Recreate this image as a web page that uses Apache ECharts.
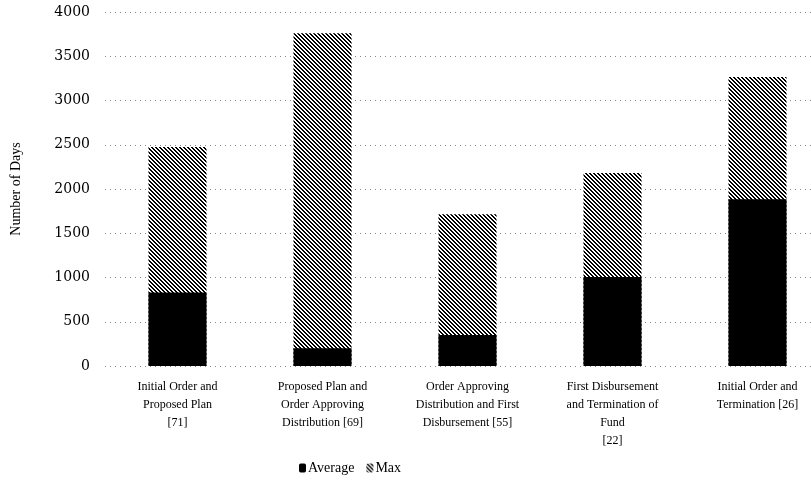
<!DOCTYPE html>
<html>
<head>
<meta charset="utf-8">
<script src="https://cdn.jsdelivr.net/npm/echarts@6/dist/echarts.min.js"></script>
<style>
  html, body { margin: 0; padding: 0; background: #fff; }
  #chart { width: 811px; height: 483px; }
</style>
</head>
<body>
<div id="chart"></div>
<script>
const categories = [
  "Initial Order and\nProposed Plan\n[71]",
  "Proposed Plan and\nOrder Approving\nDistribution [69]",
  "Order Approving\nDistribution and First\nDisbursement [55]",
  "First Disbursement\nand Termination of\nFund\n[22]",
  "Initial Order and\nTermination [26]"
];
const averageDays = [830, 200, 350, 1005, 1885];
const maxDays = [2475, 3760, 1715, 2180, 3265];

// diagonal hatch for the Max bars
function hatch() {
  const c = document.createElement("canvas");
  c.width = 4;
  c.height = 4;
  const ctx = c.getContext("2d");
  ctx.fillStyle = "#fff";
  ctx.fillRect(0, 0, 4, 4);
  ctx.fillStyle = "#000";
  for (let y = 0; y < 4; y++) {
    for (let x = 0; x < 4; x++) {
      const d = (x - y + 8) % 4;
      if (d === 0 || d === 1) ctx.fillRect(x, y, 1, 1);
    }
  }
  return c;
}

const font = "'Liberation Serif', 'DejaVu Serif', serif";
const chart = echarts.init(document.getElementById("chart"));

chart.setOption({
  animation: false,
  textStyle: { fontFamily: font, color: "#000" },
  grid: { left: 105, width: 725, top: 12, bottom: 117, outerBoundsMode: "none" },
  legend: {
    data: ["Average", "Max"],
    left: 294,
    top: 456,
    itemWidth: 7,
    itemHeight: 9,
    itemGap: 12,
    textStyle: { fontFamily: font, fontSize: 14, color: "#000", padding: [0, 0, 0, -3] }
  },
  xAxis: {
    type: "category",
    data: categories,
    axisLine: { show: false },
    axisTick: { show: false },
    axisLabel: {
      interval: 0,
      margin: 12,
      fontSize: 12,
      lineHeight: 18,
      color: "#000",
      fontFamily: font
    }
  },
  yAxis: {
    type: "value",
    min: 0,
    max: 4000,
    interval: 500,
    name: "Number of Days",
    nameLocation: "middle",
    nameGap: 82,
    nameTextStyle: { fontFamily: font, fontSize: 14, color: "#000" },
    axisLine: { show: false },
    axisTick: { show: false },
    axisLabel: {
      fontSize: 14,
      color: "#000",
      margin: 15,
      fontFamily: "'DejaVu Serif', serif",
      formatter: (v) => String(v)
    },
    splitLine: { lineStyle: { type: [1, 4], color: "#888" } }
  },
  series: [
    {
      name: "Max",
      type: "bar",
      data: maxDays,
      barWidth: "40%",
      barGap: "-100%",
      z: 2,
      itemStyle: { color: { image: hatch(), repeat: "repeat" } }
    },
    {
      name: "Average",
      type: "bar",
      data: averageDays,
      barWidth: "40%",
      barGap: "-100%",
      z: 3,
      itemStyle: { color: "#000" }
    }
  ]
});
</script>
</body>
</html>
